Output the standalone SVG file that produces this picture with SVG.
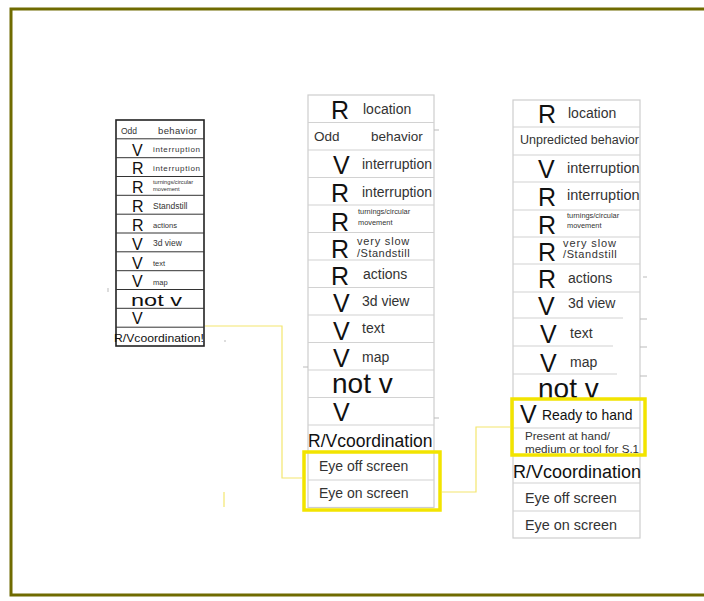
<svg xmlns="http://www.w3.org/2000/svg" width="704" height="601" viewBox="0 0 704 601">
<style>
.frame{fill:none;stroke:#6f6b00;stroke-width:3}
.lbox{fill:#fff;stroke:#222;stroke-width:1.6}
.lln{stroke:#333;stroke-width:1}
.gbox{fill:#fff;stroke:#cdcdcd;stroke-width:1.2}
.gln{stroke:#d2d2d2;stroke-width:1.1}
.tick{stroke:#bbb;stroke-width:1}
text{font-family:"Liberation Sans",Arial,sans-serif}
.big{fill:#111}
.lab{fill:#333}
.hl{fill:none;stroke:#f2e400;stroke-width:3.5}
.conn{fill:none;stroke:#f3e66e;stroke-width:1.2}
</style>
<rect width="704" height="601" fill="#fff"/>
<path class="frame" d="M704 9 H11 V595 H704"/>

<g id="col-left">
<rect class="lbox" x="116" y="120" width="88" height="226"/>
<g class="lln">
<line x1="116" y1="138.8" x2="204" y2="138.8"/>
<line x1="116" y1="157.7" x2="204" y2="157.7"/>
<line x1="116" y1="176.5" x2="204" y2="176.5"/>
<line x1="116" y1="195.3" x2="204" y2="195.3"/>
<line x1="116" y1="214.2" x2="204" y2="214.2"/>
<line x1="116" y1="233" x2="204" y2="233"/>
<line x1="116" y1="251.8" x2="204" y2="251.8"/>
<line x1="116" y1="270.7" x2="204" y2="270.7"/>
<line x1="116" y1="289.5" x2="204" y2="289.5"/>
<line x1="116" y1="308.3" x2="204" y2="308.3"/>
<line x1="116" y1="327.2" x2="204" y2="327.2"/>
</g>
<text class="lab" x="121" y="134" font-size="8.5">Odd</text>
<text class="lab" x="158" y="134" font-size="9.5" textLength="39">behavior</text>
<text class="big" x="132" y="156" font-size="16">V</text>
<text class="lab" x="153" y="152" font-size="8" textLength="47">interruption</text>
<text class="big" x="132" y="174" font-size="16">R</text>
<text class="lab" x="153" y="171" font-size="8" textLength="47">interruption</text>
<text class="big" x="132" y="193" font-size="16">R</text>
<text class="lab" x="153" y="184" font-size="5.7">turnings/circular</text>
<text class="lab" x="153" y="191" font-size="5.7">movement</text>
<text class="big" x="132" y="212" font-size="16">R</text>
<text class="lab" x="153" y="209" font-size="8.5">Standstill</text>
<text class="big" x="132" y="231" font-size="16">R</text>
<text class="lab" x="153" y="228" font-size="7.6">actions</text>
<text class="big" x="132" y="250" font-size="16">V</text>
<text class="lab" x="153" y="246" font-size="8.5">3d view</text>
<text class="big" x="132" y="269" font-size="16">V</text>
<text class="lab" x="153" y="266" font-size="7.5">text</text>
<text class="big" x="132" y="287" font-size="16">V</text>
<text class="lab" x="153" y="285" font-size="7.5">map</text>
<text class="big" x="131" y="306" font-size="17" textLength="51" lengthAdjust="spacingAndGlyphs">not v</text>
<text class="big" x="132" y="324" font-size="16">V</text>
<text class="big" x="114" y="342" font-size="11" textLength="90" lengthAdjust="spacingAndGlyphs">R/Vcoordination!</text>
</g>

<g id="col-middle">
<rect class="gbox" x="308" y="95" width="126" height="412.5"/>
<g class="gln">
<line x1="308" y1="122.5" x2="434" y2="122.5"/>
<line x1="308" y1="150" x2="434" y2="150"/>
<line x1="308" y1="177.5" x2="434" y2="177.5"/>
<line x1="308" y1="205" x2="434" y2="205"/>
<line x1="308" y1="232.5" x2="434" y2="232.5"/>
<line x1="308" y1="260" x2="434" y2="260"/>
<line x1="308" y1="287.5" x2="434" y2="287.5"/>
<line x1="308" y1="315" x2="434" y2="315"/>
<line x1="308" y1="342.5" x2="434" y2="342.5"/>
<line x1="308" y1="370" x2="434" y2="370"/>
<line x1="308" y1="397.5" x2="434" y2="397.5"/>
<line x1="308" y1="425" x2="434" y2="425"/>
<line x1="308" y1="452.5" x2="434" y2="452.5"/>
<line x1="308" y1="480" x2="434" y2="480"/>
</g>
<text class="big" x="331" y="119" font-size="25">R</text>
<text class="lab" x="363" y="114" font-size="14">location</text>
<text class="lab" x="314" y="141" font-size="13.5">Odd</text>
<text class="lab" x="371" y="141" font-size="13.5">behavior</text>
<text class="big" x="333" y="174" font-size="25">V</text>
<text class="lab" x="362" y="169" font-size="14">interruption</text>
<text class="big" x="331" y="202" font-size="25">R</text>
<text class="lab" x="362" y="197" font-size="14">interruption</text>
<text class="big" x="331" y="231" font-size="25">R</text>
<text class="lab" x="358" y="214" font-size="7.4">turnings/circular</text>
<text class="lab" x="358" y="225" font-size="7.4">movement</text>
<text class="big" x="331" y="258" font-size="25">R</text>
<text class="lab" x="357" y="245" font-size="11" letter-spacing="0.8">very slow</text>
<text class="lab" x="357" y="257" font-size="11" letter-spacing="0.5">/Standstill</text>
<text class="big" x="331" y="285" font-size="25">R</text>
<text class="lab" x="363" y="279" font-size="14">actions</text>
<text class="big" x="333" y="312" font-size="25">V</text>
<text class="lab" x="362" y="306" font-size="14">3d view</text>
<text class="big" x="333" y="340" font-size="25">V</text>
<text class="lab" x="362" y="333" font-size="14">text</text>
<text class="big" x="333" y="367" font-size="25">V</text>
<text class="lab" x="362" y="362" font-size="14">map</text>
<text class="big" x="332" y="393" font-size="28">not v</text>
<text class="big" x="333" y="421" font-size="25">V</text>
<text class="big" x="308" y="447" font-size="17.5">R/Vcoordination</text>
<text class="lab" x="319" y="471" font-size="14">Eye off screen</text>
<text class="lab" x="319" y="498" font-size="14">Eye on screen</text>
<rect class="hl" x="304" y="452" width="136" height="58"/>
</g>

<g id="col-right">
<rect class="gbox" x="513" y="100" width="127" height="438"/>
<g class="gln">
<line x1="513" y1="127" x2="640" y2="127"/>
<line x1="513" y1="155" x2="640" y2="155"/>
<line x1="513" y1="182" x2="640" y2="182"/>
<line x1="513" y1="210" x2="640" y2="210"/>
<line x1="513" y1="237" x2="640" y2="237"/>
<line x1="513" y1="264" x2="640" y2="264"/>
<line x1="513" y1="292" x2="640" y2="292"/>
<line x1="513" y1="318" x2="623" y2="318"/>
<line x1="513" y1="346" x2="613" y2="346"/>
<line x1="513" y1="374" x2="617" y2="374"/>
<line x1="513" y1="428" x2="640" y2="428"/>
<line x1="513" y1="483" x2="640" y2="483"/>
<line x1="513" y1="511" x2="640" y2="511"/>
</g>
<g class="tick">
<line x1="640" y1="319" x2="647" y2="319"/>
<line x1="640" y1="347" x2="647" y2="347"/>
<line x1="640" y1="376" x2="647" y2="376"/>
<line x1="643" y1="277" x2="647" y2="277"/>
</g>
<text class="big" x="538" y="123" font-size="25">R</text>
<text class="lab" x="568" y="118" font-size="14">location</text>
<text class="lab" x="520" y="144" font-size="12.5">Unpredicted behavior</text>
<text class="big" x="538" y="178" font-size="25">V</text>
<text class="lab" x="567" y="173" font-size="14.5">interruption</text>
<text class="big" x="538" y="206" font-size="25">R</text>
<text class="lab" x="567" y="200" font-size="14.5">interruption</text>
<text class="big" x="538" y="234" font-size="25">R</text>
<text class="lab" x="567" y="218" font-size="7.4">turnings/circular</text>
<text class="lab" x="567" y="228" font-size="7.4">movement</text>
<text class="big" x="538" y="261" font-size="25">R</text>
<text class="lab" x="563" y="247" font-size="11" letter-spacing="0.9">very slow</text>
<text class="lab" x="563" y="258" font-size="11" letter-spacing="0.6">/Standstill</text>
<text class="big" x="538" y="288" font-size="25">R</text>
<text class="lab" x="568" y="283" font-size="14">actions</text>
<text class="big" x="538" y="315" font-size="25">V</text>
<text class="lab" x="568" y="308" font-size="14">3d view</text>
<text class="big" x="540" y="343" font-size="25">V</text>
<text class="lab" x="570" y="338" font-size="14">text</text>
<text class="big" x="540" y="372" font-size="25">V</text>
<text class="lab" x="570" y="367" font-size="14">map</text>
<text class="big" x="538" y="398" font-size="28">not v</text>
<text class="big" x="520" y="423" font-size="25">V</text>
<text class="big" x="542" y="420" font-size="13.9">Ready to hand</text>
<text class="lab" x="525" y="440" font-size="11.6">Present at hand/</text>
<text class="lab" x="525" y="453" font-size="11.6">medium or tool for S.1</text>
<text class="big" x="513" y="478" font-size="18">R/Vcoordination</text>
<text class="lab" x="525" y="503" font-size="14.4">Eye off screen</text>
<text class="lab" x="525" y="530" font-size="14.4">Eye on screen</text>
<rect class="hl" x="512" y="399" width="133" height="56"/>
</g>

<g id="connectors">
<polyline class="conn" points="205,326 282,326 282,478 302,478"/>
<polyline class="conn" points="442,492 476,492 476,427 510,427"/>
<line class="conn" x1="224" y1="492" x2="224" y2="507"/>
</g>
<g id="marks" class="tick">
<line x1="108" y1="288" x2="108" y2="292"/>
<line x1="225" y1="340" x2="225" y2="342"/>
<line x1="434" y1="130" x2="439" y2="130"/>
<line x1="303" y1="367" x2="308" y2="367"/>
<line x1="434" y1="418" x2="439" y2="418"/>
</g>
</svg>
